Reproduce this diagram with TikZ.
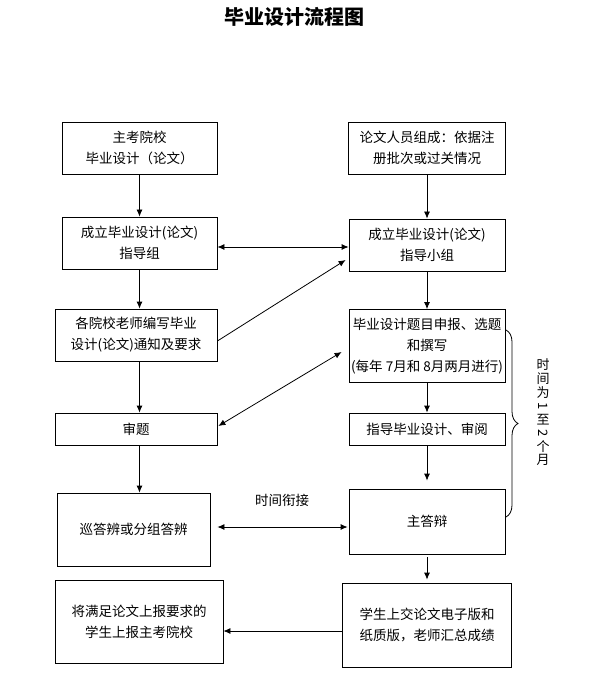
\documentclass[tikz,border=0pt]{standalone}
\usepackage{fontspec}
\setmainfont{Noto Sans CJK SC}
\usetikzlibrary{arrows.meta,calc,decorations.pathreplacing}
\tikzset{
  box/.style={draw,line width=0.8pt,align=center,inner sep=2pt,font=\fontsize{13.5}{21}\selectfont},
  arr/.style={line width=0.8pt,-{Latex[length=7pt,width=6pt]}},
  arrs/.style={line width=0.8pt,{Latex[length=7pt,width=6pt]}-{Latex[length=7pt,width=6pt]}},
  vch/.style={inner sep=0pt,font=\fontsize{13}{13}\selectfont},
}
\begin{document}
\begin{tikzpicture}[x=1pt,y=-1pt]
\useasboundingbox (0,0) rectangle (601,700);
\node[font=\fontsize{20}{24}\selectfont\bfseries] (title) at (294,17) {毕业设计流程图};

\node[box,minimum width=155pt,minimum height=52pt] (zhukao)   at (139.5,148) {主考院校\\毕业设计（论文）};
\node[box,minimum width=155pt,minimum height=52pt] (zhidao)   at (139.5,243) {成立毕业设计(论文)\\指导组};
\node[box,minimum width=162pt,minimum height=52pt] (tongzhi)  at (136,335)   {各院校老师编写毕业\\设计(论文)通知及要求};
\node[box,minimum width=162pt,minimum height=32pt] (shenti)   at (136,429)   {审题};
\node[box,minimum width=153pt,minimum height=73pt] (xunda)    at (133.5,529.5) {巡答辨或分组答辨};
\node[box,minimum width=168pt,minimum height=83pt] (shangbao) at (139,621.5) {将满足论文上报要求的\\学生上报主考院校};

\node[box,minimum width=157pt,minimum height=52pt] (renyuan)  at (427,148)   {论文人员组成：依据注\\册批次或过关情况};
\node[box,minimum width=156pt,minimum height=52pt] (xiaozu)   at (427,245)   {成立毕业设计(论文)\\指导小组};
\node[box,minimum width=156pt,minimum height=73pt] (xuanti)   at (427,346)   {毕业设计题目申报、选题\\和撰写\\(每年 7月和 8月两月进行)};
\node[box,minimum width=156pt,minimum height=32pt] (shenyue)  at (427,429)   {指导毕业设计、审阅};
\node[box,minimum width=156pt,minimum height=65pt] (zhuda)    at (427,521.5) {主答辩};
\node[box,minimum width=169pt,minimum height=84pt] (shangjiao) at (427,625)  {学生上交论文电子版和\\纸质版，老师汇总成绩};

\draw[arr] (zhukao) -- (zhidao);
\draw[arr] (zhidao.south-|zhukao) -- (tongzhi.north-|zhukao);
\draw[arr] (tongzhi.south-|zhukao) -- (shenti.north-|zhukao);
\draw[arr] (shenti.south-|zhukao) -- (xunda.north-|zhukao);

\draw[arr] (renyuan) -- (xiaozu);
\draw[arr] (xiaozu) -- (xuanti);
\draw[arr] (xuanti) -- (shenyue);
\draw[arr,shorten >=8pt] (shenyue) -- (zhuda);
\draw[arr,shorten <=3pt,shorten >=3pt] (zhuda) -- (shangjiao);

\draw[arrs] ($(zhidao.east)+(0,4)$) -- ($(xiaozu.west)+(0,2)$);
\draw[arr] ($(tongzhi.east)+(0,6)$) -- ($(xiaozu.west)+(-3,15)$);
\draw[arrs] ($(shenti.east)+(1,-3)$) -- ($(xuanti.west)+(-7,6)$);
\draw[arrs] ($(xunda.east)+(7,-2.5)$) -- ($(zhuda.west)+(-1,5.5)$);
\node[font=\fontsize{13.5}{16}\selectfont] (xianjie) at (282,500) {时间衔接};
\draw[arr] ($(shangjiao.west)+(0,6)$) -- ($(shangbao.east)+(0,9.5)$);

\coordinate (bt) at (506,330) ;\coordinate (bb) at (506,517) ;
\draw[line width=0.8pt,decorate,decoration={brace,amplitude=12pt,aspect=0.5}] (bt) -- (bb);
\node[vch] (sj1) at (543,365) {时};\node[vch] (sj2) at (543,378.6) {间};
\node[vch] (sj3) at (543,392.2) {为};\node[vch,rotate=-90] (sj4) at (543,405.8) {1};
\node[vch] (sj5) at (543,419.4) {至};\node[vch,rotate=-90] (sj6) at (543,433) {2};
\node[vch] (sj7) at (543,446.6) {个};\node[vch] (sj8) at (543,460.2) {月};
\end{tikzpicture}
\end{document}
